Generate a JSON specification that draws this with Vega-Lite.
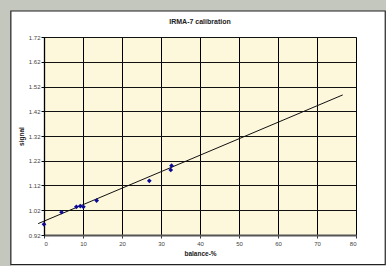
{
  "$schema": "https://vega.github.io/schema/vega-lite/v6.json",
  "width": 312,
  "height": 198,
  "autosize": {"type": "none"},
  "padding": {"left": 44, "top": 37, "right": 30, "bottom": 31},
  "background": "#ffffff",
  "config": {
    "font": "Liberation Sans",
    "view": {"fill": "#fdf7dc", "stroke": "#808080", "strokeWidth": 1}
  },
  "title": {
    "text": "IRMA-7 calibration",
    "fontSize": 7,
    "fontWeight": "bold",
    "color": "#222",
    "offset": -25,
    "anchor": "middle",
    "frame": "group"
  },
  "datasets": {
    "obs": [
      {"balance": 0, "signal": 0.963},
      {"balance": 4.5, "signal": 1.012},
      {"balance": 8.3, "signal": 1.034},
      {"balance": 9.3, "signal": 1.037},
      {"balance": 10.1, "signal": 1.034},
      {"balance": 13.5, "signal": 1.059},
      {"balance": 27, "signal": 1.139},
      {"balance": 32.5, "signal": 1.183},
      {"balance": 32.7, "signal": 1.2}
    ],
    "fit": [
      {"balance": -1.5, "signal": 0.966},
      {"balance": 76.6, "signal": 1.486}
    ]
  },
  "layer": [
    {
      "data": {"values": [{}]},
      "mark": {"type": "rect", "fill": "#c3c7be", "strokeWidth": 0},
      "encoding": {
        "x": {
          "datum": -11.28,
          "type": "quantitative",
          "scale": {"domain": [0, 80], "nice": false, "zero": false},
          "axis": {
            "title": "balance-%",
            "values": [0, 10, 20, 30, 40, 50, 60, 70, 80],
            "tickCount": 20,
            "format": "d",
            "labelFontSize": 6,
            "labelColor": "#444",
            "labelPadding": 2,
            "labelOverlap": false,
            "tickSize": 3,
            "tickColor": "#333",
            "domainColor": "#555",
            "domainWidth": 2,
            "grid": true,
            "gridColor": "#000",
            "gridWidth": 1,
            "gridOpacity": 1,
            "titleFontSize": 6.5,
            "titleFontWeight": "bold",
            "titleColor": "#222",
            "titlePadding": 4
          }
        },
        "x2": {"datum": -8.5},
        "y": {
          "datum": 0.795,
          "type": "quantitative",
          "scale": {"domain": [0.92, 1.72], "nice": false, "zero": false},
          "axis": {
            "title": "signal",
            "values": [0.92, 1.02, 1.12, 1.22, 1.32, 1.42, 1.52, 1.62, 1.72],
            "tickCount": 20,
            "format": ".2f",
            "labelFontSize": 6,
            "labelColor": "#444",
            "labelPadding": 1,
            "labelOverlap": false,
            "tickSize": 3,
            "tickColor": "#000",
            "domainColor": "#000",
            "domainWidth": 1.3,
            "grid": true,
            "gridColor": "#111",
            "gridWidth": 1,
            "gridOpacity": 1,
            "titleFontSize": 6.5,
            "titleFontWeight": "bold",
            "titleColor": "#222",
            "titlePadding": 4
          }
        },
        "y2": {"datum": 1.8695}
      }
    },
    {
      "data": {"values": [{}]},
      "mark": {"type": "rect", "fill": "#c3c7be", "strokeWidth": 0},
      "encoding": {
        "x": {"datum": -11.28, "type": "quantitative"},
        "x2": {"datum": 87.69},
        "y": {"datum": 1.825, "type": "quantitative"},
        "y2": {"datum": 1.8695}
      }
    },
    {
      "data": {"values": [{}]},
      "mark": {"type": "rect", "fill": "transparent", "stroke": "#222", "strokeWidth": 1.2},
      "encoding": {
        "x": {"datum": -8.5, "type": "quantitative"},
        "x2": {"datum": 87.5},
        "y": {"datum": 0.8, "type": "quantitative"},
        "y2": {"datum": 1.825}
      }
    },
    {
      "data": {"name": "fit"},
      "mark": {"type": "line", "color": "#111", "strokeWidth": 1},
      "encoding": {
        "x": {"field": "balance", "type": "quantitative"},
        "y": {"field": "signal", "type": "quantitative"}
      }
    },
    {
      "data": {"name": "obs"},
      "mark": {"type": "point", "shape": "diamond", "filled": true, "color": "#0a0a96", "size": 22, "opacity": 1},
      "encoding": {
        "x": {"field": "balance", "type": "quantitative"},
        "y": {"field": "signal", "type": "quantitative"}
      }
    }
  ]
}
